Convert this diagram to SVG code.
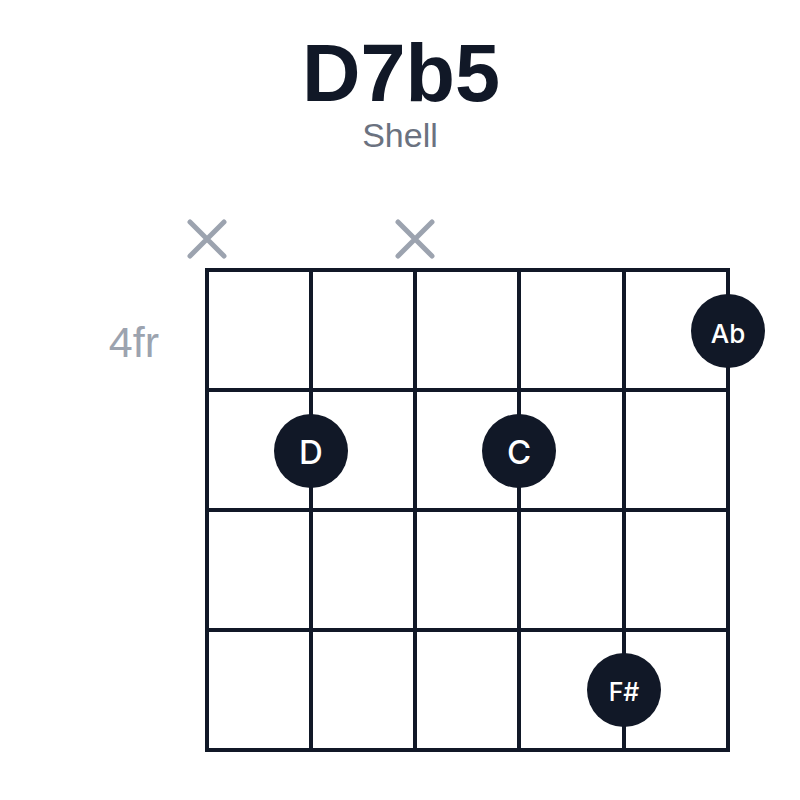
<svg xmlns="http://www.w3.org/2000/svg" width="800" height="800" viewBox="0 0 800 800">
<style>
.grid line{stroke:#111827;stroke-width:4;stroke-linecap:square}
.mute{stroke:#9ca3af;stroke-width:5;stroke-linecap:round;fill:none}
.dot{fill:#111827}
.lbl{fill:#ffffff;font-family:Inter,"Liberation Sans",Arial,sans-serif;font-weight:500;text-anchor:middle;dominant-baseline:central}
</style>
<rect width="800" height="800" fill="#ffffff"/>
<text x="401" y="101" text-anchor="middle" font-family="Liberation Sans,Arial,sans-serif" font-weight="700" font-size="81" fill="#111827">D7b5</text>
<text x="400" y="147" text-anchor="middle" font-family="Liberation Sans,Arial,sans-serif" font-size="34" fill="#6b7280">Shell</text>
<text x="159" y="357" text-anchor="end" font-family="Liberation Sans,Arial,sans-serif" font-size="43" fill="#9ca3af">4fr</text>
<g id="muted">
<path class="mute" d="M190 222L224 256M224 222L190 256"/>
<path class="mute" d="M398 222L432 256M432 222L398 256"/>
</g>
<g id="connectors" class="grid">
<line x1="207" y1="270" x2="728" y2="270"/>
<line x1="207" y1="390" x2="728" y2="390"/>
<line x1="207" y1="510" x2="728" y2="510"/>
<line x1="207" y1="630" x2="728" y2="630"/>
<line x1="207" y1="750" x2="728" y2="750"/>
<line x1="207" y1="270" x2="207" y2="750"/>
<line x1="311" y1="270" x2="311" y2="750"/>
<line x1="415" y1="270" x2="415" y2="750"/>
<line x1="519" y1="270" x2="519" y2="750"/>
<line x1="624" y1="270" x2="624" y2="750"/>
<line x1="728" y1="270" x2="728" y2="750"/>
</g>
<g id="note-Ab"><circle class="dot" cx="728" cy="331" r="37"/><text class="lbl" x="728" y="333" font-size="26">Ab</text></g>
<g id="note-D"><circle class="dot" cx="311" cy="451" r="37"/><text class="lbl" x="311" y="452" font-size="33">D</text></g>
<g id="note-C"><circle class="dot" cx="519" cy="451" r="37"/><text class="lbl" x="519" y="452" font-size="33">C</text></g>
<g id="note-Fs"><circle class="dot" cx="624" cy="690" r="37"/><text class="lbl" x="624" y="692" font-size="25">F#</text></g>
</svg>
